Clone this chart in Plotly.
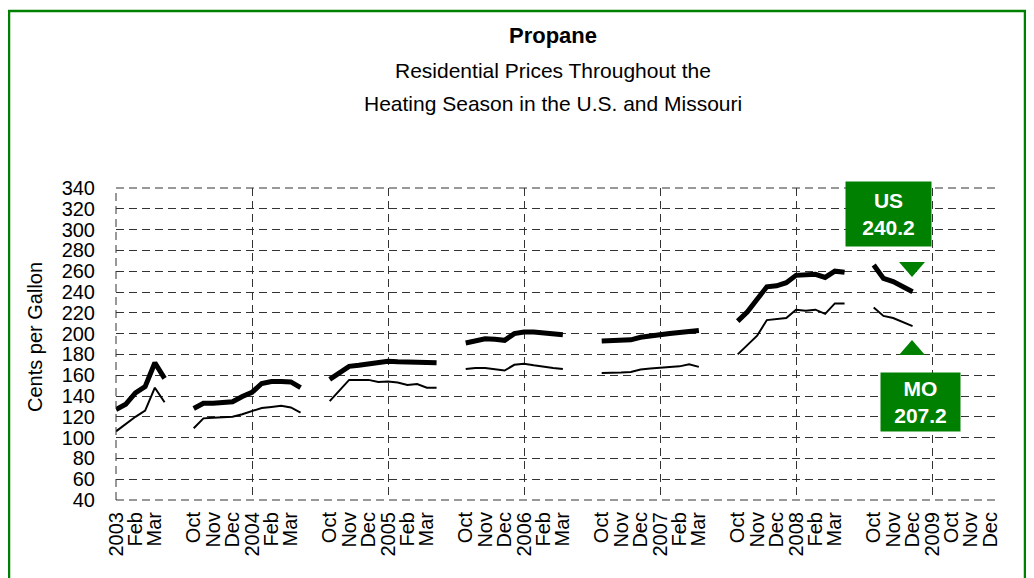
import plotly.graph_objects as go

# ---- data: half-monthly residential propane prices (cents per gallon) ----
us_2003 = [127, 132, 143, 149, 172, 157]
mo_2003 = [106, 113, 120, 126, 148, 134]
us_0304 = [128, 133, 133, 133.5, 134.5, 139.5, 143.5, 152, 154, 154, 153.5, 148]
mo_0304 = [109, 118.5, 119, 119.5, 120, 122.5, 125.5, 128.5, 129.5, 130.5, 129, 124]
us_0405 = [156, 163, 168.5, 169.5, 171, 172.5, 173.5, 173, 172.5, 172, 171.5, 172]
mo_0405 = [135, 145, 155.5, 155.5, 155.5, 153.5, 154, 153, 150.5, 151.5, 148, 148]
us_0506 = [191, 193.5, 195, 194.5, 193.5, 200, 201.5, 201.5, 200.5, 200, 199]
mo_0506 = [166, 167, 167, 166, 164.5, 170, 171, 169.5, 168, 167, 166]
us_0607 = [193, 193, 193.5, 194, 196.5, 198, 199.5, 200, 201, 202.5, 203]
mo_0607 = [162, 162, 162.5, 163, 165.5, 166.5, 167, 167.5, 168.5, 170.5, 168]
us_0708 = [212, 221, 233, 245, 246, 249, 256, 257, 257, 254, 260, 259]
mo_0708 = [180, 189, 198, 213, 214, 215, 223, 222, 223, 219, 229, 229]
us_0809 = [266, 253, 250, 245, 240.2]
mo_0809 = [225, 217, 215, 211, 207.2]
us_0910 = []
mo_0910 = []

# month labels of each axis segment (two half-month slots per month)
seg_labels = [
    ["2003", "Feb", "Mar"],
    ["Oct", "Nov", "Dec", "2004", "Feb", "Mar"],
    ["Oct", "Nov", "Dec", "2005", "Feb", "Mar"],
    ["Oct", "Nov", "Dec", "2006", "Feb", "Mar"],
    ["Oct", "Nov", "Dec", "2007", "Feb", "Mar"],
    ["Oct", "Nov", "Dec", "2008", "Feb", "Mar"],
    ["Oct", "Nov", "Dec", "2009"],
    ["Oct", "Nov", "Dec"],
]
seg_gap = [2, 2, 2, 2, 2, 2, 0, 0]  # blank slots after each segment
us_segs = [us_2003, us_0304, us_0405, us_0506, us_0607, us_0708, us_0809, us_0910]
mo_segs = [mo_2003, mo_0304, mo_0405, mo_0506, mo_0607, mo_0708, mo_0809, mo_0910]

# ---- build category slot positions ----
tickvals, ticktext = [], []
us_x, us_y, mo_x, mo_y = [], [], [], []
slot = 0
for labels, gap, us, mo in zip(seg_labels, seg_gap, us_segs, mo_segs):
    for i, lab in enumerate(labels):
        tickvals.append(slot + 2 * i)
        ticktext.append(lab)
    for i, v in enumerate(us):
        us_x.append(slot + i); us_y.append(v)
    for i, v in enumerate(mo):
        mo_x.append(slot + i); mo_y.append(v)
    if us:
        us_x.append(None); us_y.append(None)
    if mo:
        mo_x.append(None); mo_y.append(None)
    slot += 2 * len(labels) + gap
last_slot = slot - 1
grid_x = list(range(0, last_slot, 14))

FONT = "Arial, Liberation Sans, sans-serif"
GREEN = "#008000"
GRID = "#333333"
DASH = "8px,5px"

# page offset (body margin) and plot box in screen pixels
OFF = 8
L, R, T, B = 116, 1000, 188, 500
W, H = 1034 - 2 * OFF, 578 - OFF
Y0, Y1 = 40, 340

fig = go.Figure()
fig.add_trace(go.Scatter(x=mo_x, y=mo_y, mode="lines", name="MO",
                         line=dict(color="black", width=2), connectgaps=False,
                         hoverinfo="skip"))
fig.add_trace(go.Scatter(x=us_x, y=us_y, mode="lines", name="US",
                         line=dict(color="black", width=5), connectgaps=False,
                         hoverinfo="skip"))
fig.add_trace(go.Scatter(x=[0], y=[Y0], xaxis="x2", mode="markers",
                         marker=dict(opacity=0), hoverinfo="skip", showlegend=False))

fig.update_layout(
    width=W, height=H,
    margin=dict(l=L - OFF, r=W - (R - OFF), t=T - OFF, b=H - (B - OFF), pad=0),
    paper_bgcolor="white", plot_bgcolor="white",
    showlegend=False,
    font=dict(family=FONT, size=20, color="black"),
    xaxis=dict(range=[0, last_slot], tickmode="array", tickvals=tickvals,
               ticktext=ticktext, tickangle=-90, showgrid=False, zeroline=False,
               showline=False, ticks="outside", ticklen=3, tickcolor="white",
               tickfont=dict(size=20)),
    xaxis2=dict(range=[0, last_slot], overlaying="x", tickmode="array",
                tickvals=grid_x, showticklabels=False, showgrid=True,
                gridcolor=GRID, griddash=DASH, gridwidth=1, zeroline=False,
                ticks=""),
    yaxis=dict(range=[Y0, Y1], tickmode="linear", tick0=Y0, dtick=20,
               showgrid=True, gridcolor=GRID, griddash=DASH, gridwidth=1,
               zeroline=False, showline=False, ticks="outside", ticklen=16,
               tickcolor="white", tickfont=dict(size=20)),
)

PW = R - L
PH = B - T


def px(xs):
    return (xs - L) / PW


def py(ys):
    return (B - ys) / PH


# dashed gridlines along the plot edges (Plotly skips grid at range ends)
edge_dash = dict(color=GRID, width=1, dash=DASH)
fig.add_shape(type="line", xref="paper", yref="paper", x0=0, x1=1, y0=1, y1=1, line=edge_dash)
fig.add_shape(type="line", xref="paper", yref="paper", x0=0, x1=1, y0=0, y1=0, line=edge_dash)
fig.add_shape(type="line", xref="paper", yref="paper", x0=0, x1=0, y0=0, y1=1, line=edge_dash)

# titles
fig.add_annotation(text="<b>Propane</b>", xref="paper", yref="paper", x=px(553), y=py(35),
                   showarrow=False, font=dict(size=22), xanchor="center", yanchor="middle")
fig.add_annotation(text="Residential Prices Throughout the", xref="paper", yref="paper",
                   x=px(553), y=py(70), showarrow=False, font=dict(size=21),
                   xanchor="center", yanchor="middle")
fig.add_annotation(text="Heating Season in the U.S. and Missouri", xref="paper", yref="paper",
                   x=px(553), y=py(103), showarrow=False, font=dict(size=21),
                   xanchor="center", yanchor="middle")
fig.add_annotation(text="Cents per Gallon", xref="paper", yref="paper", x=px(35), y=py(337),
                   textangle=-90, showarrow=False, font=dict(size=20),
                   xanchor="center", yanchor="middle")

# value boxes
fig.add_annotation(text=f"<b>US</b><br><b>{us_0809[-1]:.1f}</b>", xref="paper", yref="paper",
                   x=px(888.5), y=py(214), showarrow=False, bgcolor=GREEN,
                   width=85, height=64, borderpad=0, font=dict(size=21, color="white"),
                   xanchor="center", yanchor="middle")
fig.add_annotation(text=f"<b>MO</b><br><b>{mo_0809[-1]:.1f}</b>", xref="paper", yref="paper",
                   x=px(920.5), y=py(402), showarrow=False, bgcolor=GREEN,
                   width=79, height=58, borderpad=0, font=dict(size=21, color="white"),
                   xanchor="center", yanchor="middle")

# triangles
fig.add_shape(type="path", xref="paper", yref="paper",
              path=f"M {px(899)},{py(262)} L {px(925)},{py(262)} L {px(912)},{py(277)} Z",
              fillcolor=GREEN, line=dict(width=0))
fig.add_shape(type="path", xref="paper", yref="paper",
              path=f"M {px(899)},{py(355)} L {px(925)},{py(355)} L {px(912)},{py(340)} Z",
              fillcolor=GREEN, line=dict(width=0))

# outer green frame
fig.add_shape(type="rect", xref="paper", yref="paper",
              x0=px(9), x1=px(1025), y0=py(590), y1=py(11),
              line=dict(color=GREEN, width=2.5), fillcolor="rgba(0,0,0,0)", layer="below")

fig.write_html("out.html")
